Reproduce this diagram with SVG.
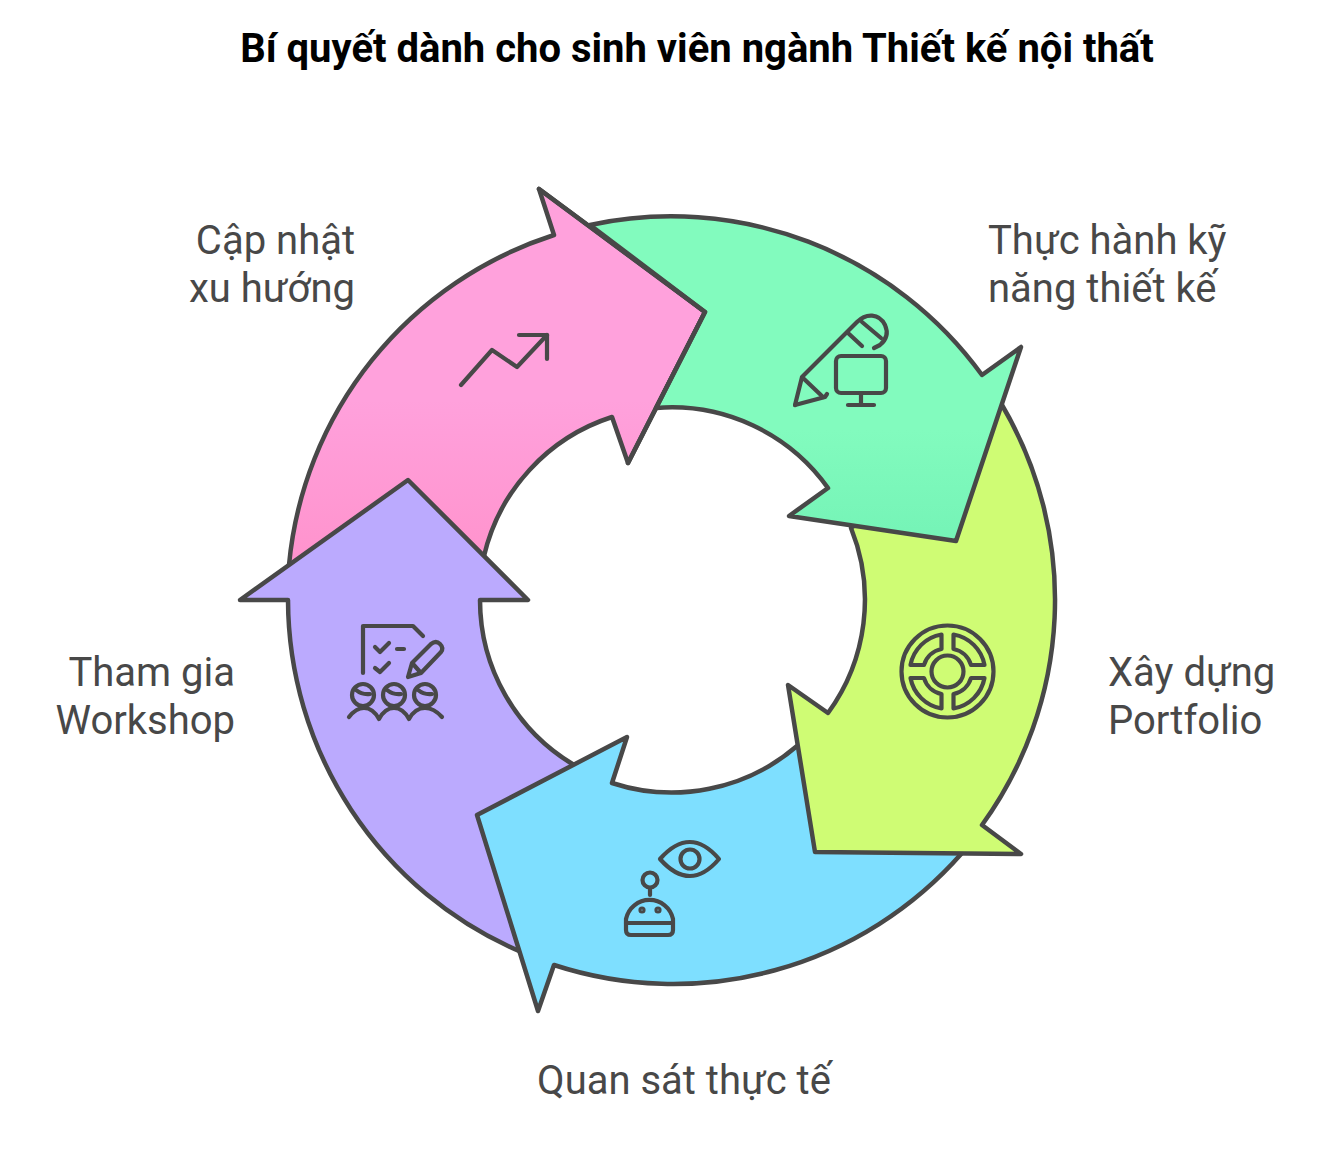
<svg xmlns="http://www.w3.org/2000/svg" width="1344" height="1176" viewBox="0 0 1344 1176">
<style>
.arrow{stroke:#484848;stroke-width:4.5;stroke-linejoin:round;stroke-linecap:round}
.icon{fill:none;stroke:#484848;stroke-width:4.2;stroke-linejoin:round;stroke-linecap:round}
.label{font-family:Roboto,"Noto Sans",sans-serif;font-size:40px;fill:#484848}
.title{font-family:Roboto,"Noto Sans",sans-serif;font-size:40px;font-weight:700;fill:#000}
.end{text-anchor:end}
</style>
<defs>
<linearGradient id="pinkFill" gradientUnits="userSpaceOnUse" x1="0" y1="400" x2="0" y2="570"><stop offset="0" stop-color="#ffa1dc"/><stop offset="1" stop-color="#ff92cc"/></linearGradient>
<linearGradient id="greenFill" gradientUnits="userSpaceOnUse" x1="0" y1="430" x2="0" y2="545"><stop offset="0" stop-color="#82fbbe"/><stop offset="1" stop-color="#74f3b6"/></linearGradient>
</defs>
<rect width="1344" height="1176" fill="#fff"/>
<text class="title" x="697" y="62" text-anchor="middle">Bí quyết dành cho sinh viên ngành Thiết kế nội thất</text>
<g id="connectors"></g>
<g id="node-cap-nhat">
<path class="arrow" fill="url(#pinkFill)" d="M289,565 A384,384 0 0 1 554,235 L539,189 L705,312 L628,463 L612,417 A192,192 0 0 0 484,556 L408,600 Z"/>
<text class="label end"><tspan x="355" y="254">Cập nhật</tspan><tspan x="355" y="302">xu hướng</tspan></text>
</g>
<g id="node-workshop">
<path class="arrow" fill="#bbaafe" d="M408,480 L528,600 L480,600 A192,192 0 0 0 574,765 L600,860 L519,951 A384,384 0 0 1 288,600 L240,600 Z"/>
<text class="label end"><tspan x="235" y="686">Tham gia</tspan><tspan x="235" y="734">Workshop</tspan></text>
</g>
<g id="node-quan-sat">
<path class="arrow" fill="#7edfff" d="M962,853 A384,384 0 0 1 554,965 L538,1011 L477,815 L627,737 L612,783 A192,192 0 0 0 797,746 L880,800 Z"/>
<text class="label" x="684" y="1094" text-anchor="middle">Quan sát thực tế</text>
</g>
<g id="node-portfolio">
<path class="arrow" fill="#cffc74" d="M1002,405 A384,384 0 0 1 982,825 L1021,854 L815,852 L788,685 L828,713 A192,192 0 0 0 851,528 L930,470 Z"/>
<text class="label"><tspan x="1108" y="686">Xây dựng</tspan><tspan x="1108" y="734">Portfolio</tspan></text>
</g>
<g id="node-thuc-hanh">
<path class="arrow" fill="url(#greenFill)" d="M590,225 A384,384 0 0 1 982,375 L1021,347 L956,541 L789,516 L828,488 A192,192 0 0 0 656,408 L705,312 Z"/>
<text class="label"><tspan x="988" y="254">Thực hành kỹ</tspan><tspan x="988" y="302">năng thiết kế</tspan></text>
</g>
<g id="pink-head-edge">
<path class="arrow" fill="none" d="M539,189 L705,312 L628,463"/>
</g>
<g id="icon-trend" class="icon">
<path d="M461,385 L492,350 L517,367 L547,335"/>
<path d="M519,335 H547 V359"/>
</g>
<g id="icon-pen" class="icon">
<path d="M795,405 L802,377 L857,322 C866,313 879,313 885,325 C889,334 886,340 880,345 L874,348"/>
<path d="M795,405 L825,397 L827,394"/>
<path d="M803,378 L823,397"/>
<path d="M848,333 L862,346"/>
<path d="M862,322 L881,338"/>
<rect x="836" y="356" width="50" height="37" rx="5"/>
<path d="M861,393 V405 M848,405 H874"/>
</g>
<g id="icon-target" class="icon">
<circle cx="947.500" cy="671.500" r="46"/>
<circle cx="947.500" cy="671.500" r="16"/>
<path d="M941.500,634.500 A38,38 0 0 0 910.500,665 H924 A23,23 0 0 1 941.500,649 Z"/>
<path d="M953.500,634.500 A38,38 0 0 1 984.500,665 H971 A23,23 0 0 0 953.500,649 Z"/>
<path d="M941.500,708.500 A38,38 0 0 1 910.500,678 H924 A23,23 0 0 0 941.500,694 Z"/>
<path d="M953.500,708.500 A38,38 0 0 0 984.500,678 H971 A23,23 0 0 1 953.500,694 Z"/>
</g>
<g id="icon-eye-robot" class="icon">
<path d="M660,859 Q690,825 719,859 Q690,893 660,859 Z"/>
<circle cx="690" cy="859" r="9.500"/>
<circle cx="650" cy="880" r="7.500"/>
<path d="M650,888 V895"/>
<path d="M626,919 A24,24 0 0 1 673,919 V930 Q673,935 668,935 H631 Q626,935 626,930 Z"/>
<path d="M626,923 H673"/>
<circle cx="642" cy="910" r="1.500"/>
<circle cx="658" cy="910" r="1.500"/>
</g>
<g id="icon-workshop" class="icon">
<path d="M363,673 V626 H413 L423,636"/>
<path d="M375,647 L380,652 L389,643 M375,668 L380,672 L389,663 M397,649 H404"/>
<path d="M408,677 L412,663 L431,644 Q436,640 440,644 Q444,648 441,652 L421,673 Z M413,664 L421,673"/>
<circle cx="363" cy="695" r="11"/><circle cx="394" cy="695" r="11"/><circle cx="425" cy="695" r="11"/>
<path d="M356,690 Q362,695 370,694 M387,690 Q393,695 401,694 M418,690 Q424,695 432,694"/>
<path d="M349,717 Q356,708 364,708 Q373,708 379,719 Q385,708 394,708 Q403,708 409,719 Q415,708 425,708 Q434,708 442,717"/>
</g>
</svg>
